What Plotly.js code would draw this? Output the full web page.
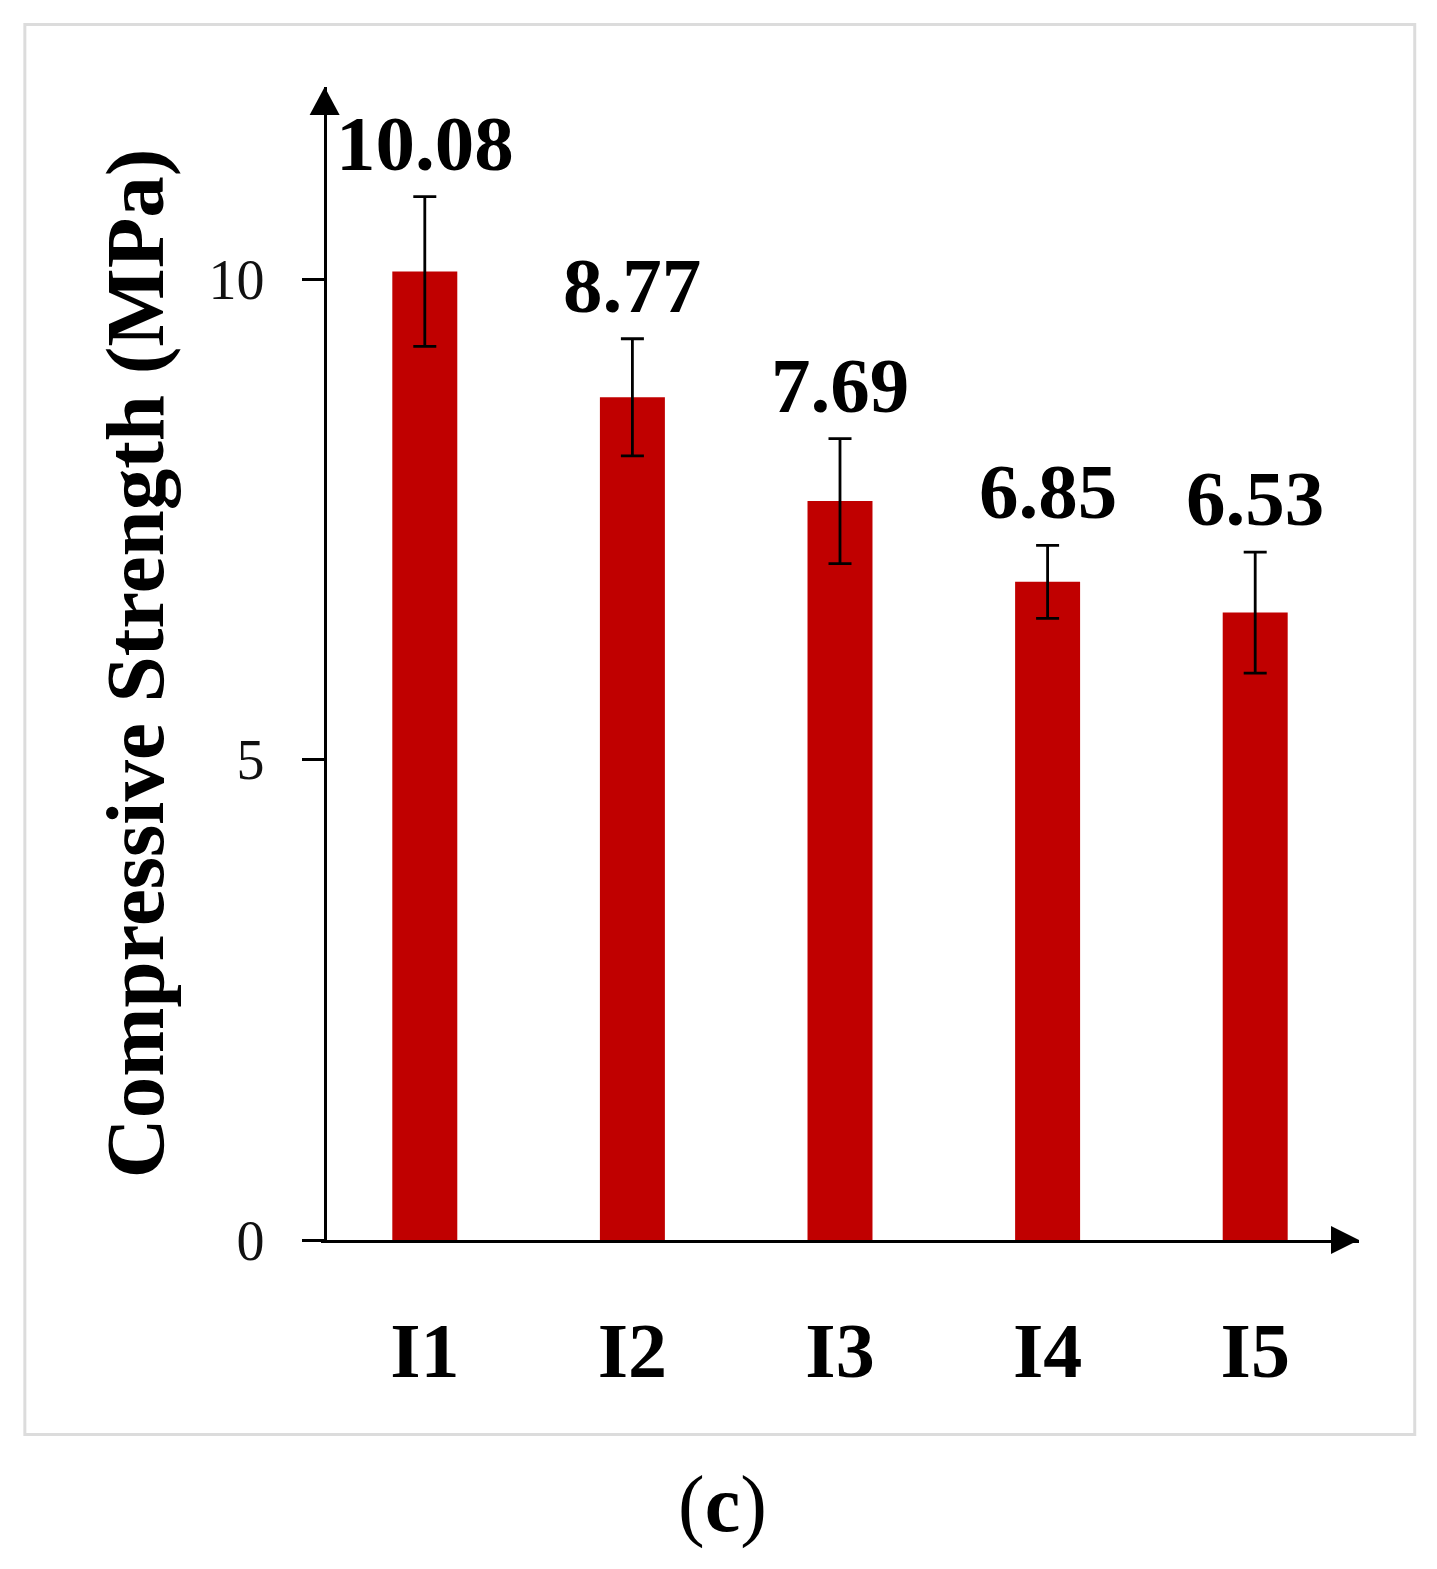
<!DOCTYPE html>
<html>
<head>
<meta charset="utf-8">
<script src="https://cdn.plot.ly/plotly-3.0.1.min.js"></script>
<style>
html,body{margin:0;padding:0;background:#fff;}
#chart{width:1437px;height:1569px;}
</style>
</head>
<body>
<div id="chart"></div>
<script>
// ---- data ----
const categories = ['I1', 'I2', 'I3', 'I4', 'I5'];
const strength = [10.08, 8.77, 7.69, 6.85, 6.53];
const strengthError = [0.78, 0.61, 0.65, 0.38, 0.63];
const yTickValues = [0, 5, 10];
const yTickLabels = ['0', '5', '10'];
const yAxisTitle = 'Compressive Strength (MPa)';
const panelCaption = '(<b>c</b>)';

const SERIF = '"Liberation Serif", "DejaVu Serif", serif';
const Y_AXIS_POS = 0.0035;

const barTrace = {
  type: 'bar',
  x: categories,
  y: strength,
  marker: {color: '#C00000', line: {width: 0}},
  error_y: {type: 'data', array: strengthError, visible: true, color: '#000', thickness: 2.8, width: 11.5},
  hoverinfo: 'x+y'
};

const valueLabels = categories.map((c, i) => ({
  x: c, y: strength[i] + strengthError[i], xref: 'x', yref: 'y',
  text: strength[i].toFixed(2), showarrow: false,
  xanchor: 'center', yanchor: 'bottom', yshift: 8,
  font: {family: SERIF, size: 79, color: '#000', weight: 'bold'}
}));

const layout = {
  width: 1437, height: 1569,
  margin: {l: 321, r: 78, t: 87, b: 329, pad: 0},
  paper_bgcolor: '#fff', plot_bgcolor: '#fff',
  showlegend: false,
  bargap: 0.687,
  xaxis: {
    type: 'category', range: [-0.5, 4.5],
    showline: true, linecolor: '#000', linewidth: 3,
    ticks: '', showgrid: false, zeroline: false,
    ticklabelstandoff: 40,
    tickfont: {family: SERIF, size: 78, color: '#000', weight: 'bold'}
  },
  yaxis: {
    range: [0, 12],
    anchor: 'free', position: Y_AXIS_POS,
    showline: true, linecolor: '#000', linewidth: 3,
    ticks: 'outside', ticklen: 22, tickwidth: 3, tickcolor: '#000',
    tickvals: yTickValues, ticktext: yTickLabels,
    ticklabelstandoff: 26,
    showgrid: false, zeroline: false,
    tickfont: {family: SERIF, size: 56, color: '#111'}
  },
  shapes: [
    // outer light frame
    {type: 'rect', xref: 'paper', yref: 'paper', x0: -0.2853, x1: 1.0537, y0: -0.1687, y1: 1.0542,
     line: {color: '#DCDCDC', width: 3}, fillcolor: 'rgba(0,0,0,0)', layer: 'below'},
    // y-axis arrowhead
    {type: 'path', xref: 'paper', yref: 'paper', xsizemode: 'pixel', ysizemode: 'pixel', xanchor: Y_AXIS_POS, yanchor: 1,
     path: 'M -15,-28 L 15,-28 L 0,0 Z', fillcolor: '#000', line: {width: 0}},
    // x-axis arrowhead
    {type: 'path', xref: 'paper', yref: 'paper', xsizemode: 'pixel', ysizemode: 'pixel', xanchor: 1, yanchor: 0,
     path: 'M 0,0 L -28,14 L -28,-14 Z', fillcolor: '#000', line: {width: 0}}
  ],
  annotations: valueLabels.concat([
    {xref: 'paper', yref: 'paper', x: -0.1795, y: 0.5, xanchor: 'center', yanchor: 'middle',
     text: '<b>' + yAxisTitle + '</b>', textangle: -90, showarrow: false,
     font: {family: SERIF, size: 83, color: '#000'}},
    {xref: 'paper', yref: 'paper', x: 0.3866, y: -0.2298, xanchor: 'center', yanchor: 'middle',
     text: panelCaption, showarrow: false,
     font: {family: SERIF, size: 80, color: '#000'}}
  ])
};

Plotly.newPlot('chart', [barTrace], layout, {displayModeBar: false, staticPlot: true});
</script>
</body>
</html>
